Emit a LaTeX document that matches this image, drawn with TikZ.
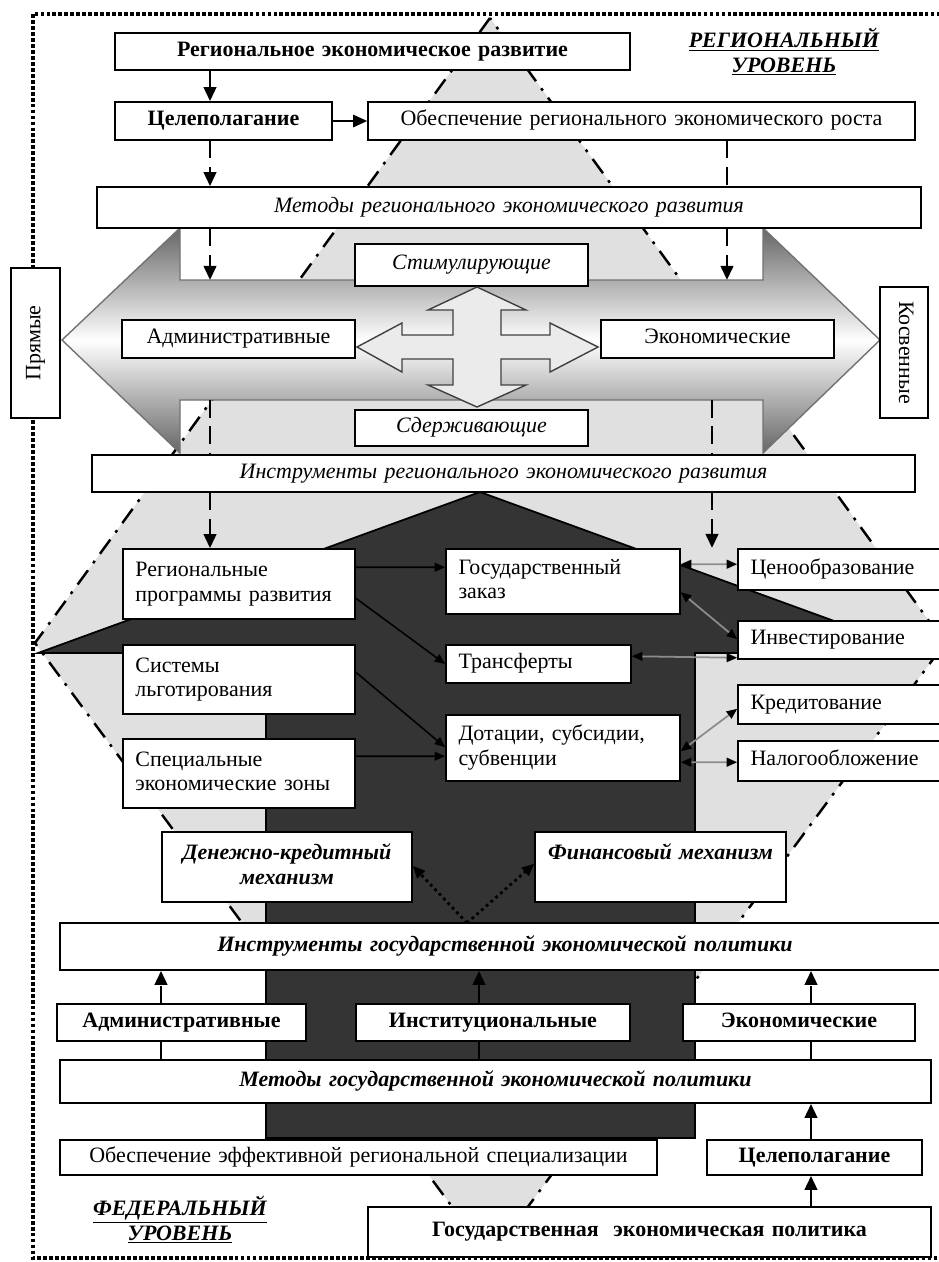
\documentclass[tikz,border=0pt]{standalone}
\usepackage{fontspec}
\setmainfont{Liberation Serif}
\usetikzlibrary{arrows.meta,calc}
\definecolor{zonegray}{RGB}{224,224,224}
\definecolor{darkfill}{RGB}{52,52,52}
\tikzset{
  box/.style={
    draw=black,
    fill=white,
    line width=0.9pt,
    inner xsep=0.25cm,
    inner ysep=0pt,
    align=center,
    execute at begin node=\strut,
    execute at end node=\strut,
    font=\fontsize{12.5}{14}\selectfont
  },
  box-left/.style={box, align=left},
  box-b/.style={box, font=\fontsize{12.5}{14}\selectfont\bfseries},
  box-i/.style={box, font=\fontsize{12.5}{14}\selectfont\itshape},
  box-bi/.style={box, font=\fontsize{12.5}{14}\selectfont\bfseries\itshape},
  level-label/.style={align=center, font=\fontsize{12.5}{14}\selectfont\bfseries\itshape},
  line-thick/.style={line width=1.7pt},
  arrow-thick/.style={line-thick, -{Triangle[length=8pt,width=7pt]}},
  arrow-dash/.style={arrow-thick, dash pattern=on 10pt off 5pt},
  line-dash/.style={line-thick, dash pattern=on 10pt off 5pt},
  arrow-thin/.style={line width=0.9pt, -{Triangle[length=6pt,width=5pt]}},
  arrow-both/.style={line width=1pt, draw=black!45,
    {Triangle[length=6pt,width=5pt,color=black]}-{Triangle[length=6pt,width=5pt,color=black]}},
  arrow-dot/.style={line width=1.6pt, dash pattern=on 1.6pt off 2pt, -{Triangle[length=7pt,width=6pt]}},
  frame-dots/.style={line width=1.8pt, dash pattern=on 2.2pt off 1.2pt},
  zone/.style={fill=zonegray, draw=black, line width=1.4pt, dash pattern=on 10pt off 5pt on 1.6pt off 5pt},
  dark-arrow/.style={fill=darkfill, draw=black, line width=1pt},
  big-arrow/.style={top color=black!60, bottom color=black!60, middle color=white, draw=black!55, line width=0.8pt},
  cross-arrow/.style={fill=black!8, draw=black!75, line width=0.8pt}
}
% box from (x1,y1) to (x2,y2), in pixels
\newcommand{\blk}[7][box]{%
  \pgfmathsetmacro{\blkw}{(#5-#3)*0.02-0.5}%
  \pgfmathsetmacro{\blkh}{(#6-#4)*0.02}%
  \node[#1, minimum height=\blkh cm, text width=\blkw cm] (#2) at ({(#3+#5)/2},{(#4+#6)/2}) {#7};
}

\begin{document}
\begin{tikzpicture}[x=0.02cm, y=-0.02cm]
  \useasboundingbox (0,0) rectangle (938,1262);
  \fill[white] (0,0) rectangle (938,1262);
  % Zone diamond
  \path[zone] (490,18) -- (35,643) -- (490,1258) -- (945,643) -- cycle;
  % Dark arrow
  \filldraw[dark-arrow] (38,653) -- (480,492) -- (922,653) -- (695,653) -- (695,1138) -- (266,1138) -- (266,653) -- cycle;
  % Double arrow
  \path[big-arrow] (62,340) -- (180,228) -- (180,280) -- (763,280) -- (763,228) -- (880,340)
    -- (763,453) -- (763,400) -- (180,400) -- (180,453) -- cycle;
  % Frame
  \draw[frame-dots] (33,14) rectangle (990,1258);

  \coordinate (lcol) at (210,0);
  \coordinate (rcol) at (727,0);
  \coordinate (rcol2) at (712,0);
  \coordinate (shafttop) at (0,280);
  \coordinate (shaftbot) at (0,400);
  \coordinate (rend) at (712,548);
  \coordinate (gcol1) at (161,0);
  \coordinate (gcol2) at (479,0);
  \coordinate (gcol3) at (811,0);
  \coordinate (fork) at (467,923);

  % Regional level
  \blk[box-b]{regdev}{115}{33}{630}{70}{Региональное экономическое развитие}
  \blk[box-b]{goalreg}{115}{102}{332}{140}{Целеполагание}
  \blk{growth}{368}{102}{915}{140}{Обеспечение регионального экономического роста}
  \blk[box-i]{methreg}{97}{187}{921}{228}{Методы регионального экономического развития}
  \blk[box-i]{stim}{355}{244}{588}{286}{Стимулирующие}
  \blk{admreg}{122}{320}{355}{358}{Административные}
  \blk{ecoreg}{601}{320}{834}{358}{Экономические}
  \blk[box-i]{restr}{355}{410}{588}{446}{Сдерживающие}
  \node[box, rotate=90, minimum width=3cm, minimum height=0.98cm] (direct) at (35.5,343) {Прямые};
  \node[box, rotate=-90, minimum width=2.62cm, minimum height=0.96cm] (indirect) at (904,352.5) {Косвенные};
  \blk[box-i]{instreg}{92}{455}{915}{492}{Инструменты регионального экономического развития}
  \node[level-label] (reglvl) at (784,52) {\underline{РЕГИОНАЛЬНЫЙ}\\\underline{УРОВЕНЬ}};

  % Cross arrow
  \draw[cross-arrow] (477,287) -- (526,310) -- (501,310) -- (501,335) -- (550,335) -- (550,323) -- (598,347)
    -- (550,372) -- (550,359) -- (501,359) -- (501,385) -- (526,385) -- (477,407) -- (428,385)
    -- (453,385) -- (453,359) -- (402,359) -- (402,372) -- (357,347) -- (402,323) -- (402,335)
    -- (453,335) -- (453,310) -- (428,310) -- cycle;

  % Instruments
  \blk[box-left]{prog}{123}{549}{355}{619}{Региональные\\программы развития}
  \blk[box-left]{priv}{123}{645}{355}{714}{Системы\\льготирования}
  \blk[box-left]{sez}{123}{739}{355}{808}{Специальные\\экономические зоны}
  \blk[box-left]{order}{446}{549}{680}{614}{Государственный\\заказ}
  \blk[box-left]{transf}{446}{645}{631}{683}{Трансферты}
  \blk[box-left]{subs}{446}{715}{680}{781}{Дотации, субсидии,\\субвенции}
  \blk[box-left]{price}{738}{549}{950}{590}{Ценообразование}
  \blk[box-left]{invest}{738}{621}{950}{659}{Инвестирование}
  \blk[box-left]{credit}{738}{685}{950}{724}{Кредитование}
  \blk[box-left]{tax}{738}{741}{950}{781}{Налогообложение}

  % Federal level
  \blk[box-bi]{money}{162}{832}{412}{902}{Денежно-кредитный\\механизм}
  \blk[box-bi]{fin}{535}{832}{786}{902}{Финансовый механизм\\~}
  \blk[box-bi]{instgov}{60}{923}{950}{970}{Инструменты государственной экономической политики}
  \blk[box-b]{admgov}{57}{1004}{306}{1041}{Административные}
  \blk[box-b]{instit}{356}{1004}{630}{1041}{Институциональные}
  \blk[box-b]{ecogov}{683}{1004}{915}{1041}{Экономические}
  \blk[box-bi]{methgov}{60}{1060}{931}{1103}{Методы государственной экономической политики}
  \blk{spec}{60}{1140}{657}{1175}{Обеспечение эффективной региональной специализации}
  \blk[box-b]{goalgov}{707}{1140}{922}{1175}{Целеполагание}
  \blk[box-b]{policy}{368}{1207}{931}{1257}{Государственная\ \ экономическая политика}
  \node[level-label] (fedlvl) at (180,1220) {\underline{ФЕДЕРАЛЬНЫЙ}\\\underline{УРОВЕНЬ}};

  % Top chain
  \draw[arrow-thick] (regdev.south -| lcol) -- (goalreg.north -| lcol);
  \draw[arrow-thick, line width=1.2pt] (goalreg.east) -- (growth.west);
  \draw[arrow-dash] (goalreg.south -| lcol) -- (methreg.north -| lcol);
  \draw[line-dash] (growth.south -| rcol) -- (methreg.north -| rcol);
  \draw[arrow-dash] (methreg.south -| lcol) -- (shafttop -| lcol);
  \draw[arrow-dash] (methreg.south -| rcol) -- (shafttop -| rcol);
  \draw[line-dash] (shaftbot -| lcol) -- (instreg.north -| lcol);
  \draw[line-dash] (shaftbot -| rcol2) -- (instreg.north -| rcol2);
  \draw[arrow-dash] (instreg.south -| lcol) -- (prog.north -| lcol);
  \draw[arrow-dash] (instreg.south -| rcol2) -- (rend);

  % Left to middle
  \draw[arrow-thin] ($(prog.north east)+(0,19)$) -- ($(order.north west)+(0,19)$);
  \draw[arrow-thin] ($(prog.north east)+(0,50)$) -- (transf.west);
  \draw[arrow-thin] ($(priv.north east)+(0,28)$) -- ($(subs.north west)+(0,33)$);
  \draw[arrow-thin] ($(sez.north east)+(0,18)$) -- ($(subs.north west)+(0,42)$);

  % Middle to right
  \draw[arrow-both] ($(order.north east)+(0,16)$) -- ($(price.north west)+(0,16)$);
  \draw[arrow-both] ($(order.north east)+(0,44)$) -- ($(invest.north west)+(0,19)$);
  \draw[arrow-both] ($(transf.north east)+(0,12)$) -- ($(invest.south west)+(0,-2)$);
  \draw[arrow-both] ($(subs.north east)+(0,37)$) -- ($(credit.south west)+(0,-16)$);
  \draw[arrow-both] ($(subs.north east)+(0,48)$) -- ($(tax.north west)+(0,22)$);

  % Bottom chain
  \draw[arrow-dot] (fork) -- ($(money.south east)+(0,-37)$);
  \draw[arrow-dot] (fork) -- ($(fin.south west)+(0,-39)$);
  \draw[arrow-dash] (admgov.north -| gcol1) -- (instgov.south -| gcol1);
  \draw[arrow-thick] (instit.north -| gcol2) -- (instgov.south -| gcol2);
  \draw[arrow-dash] (ecogov.north -| gcol3) -- (instgov.south -| gcol3);
  \draw[line-thick] (methgov.north -| gcol1) -- (admgov.south -| gcol1);
  \draw[line-thick] (methgov.north -| gcol2) -- (instit.south -| gcol2);
  \draw[line-thick] (methgov.north -| gcol3) -- (ecogov.south -| gcol3);
  \draw[arrow-thick] (goalgov.north -| gcol3) -- (methgov.south -| gcol3);
  \draw[arrow-thick] (policy.north -| gcol3) -- (goalgov.south -| gcol3);
\end{tikzpicture}
\end{document}
